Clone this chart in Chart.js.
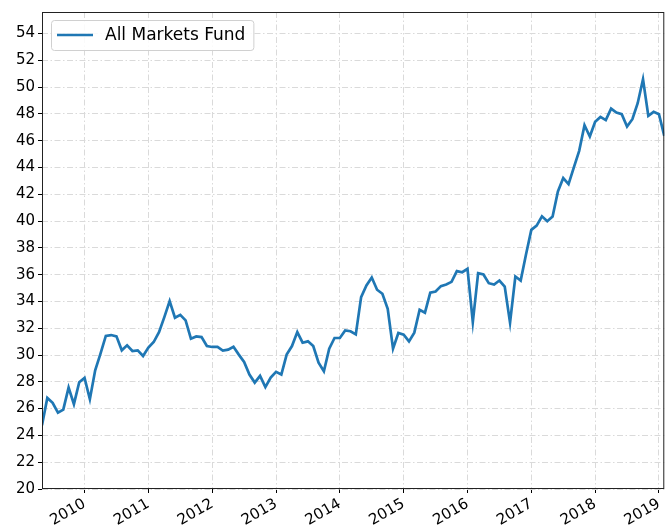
<!DOCTYPE html>
<html>
<head>
<meta charset="utf-8">
<script src="https://cdn.jsdelivr.net/npm/chart.js@4.4.1/dist/chart.umd.min.js"></script>
<style>
  body { margin: 0; background: #fff; }
</style>
</head>
<body>
<canvas id="fundChart" width="670" height="525"></canvas>
<script>
const seriesName = "All Markets Fund";
const startYear = 2009;
const startMonth = 5; // first monthly value is May 2009

const fundValues = [
  24.76, 26.8, 26.43, 25.7, 25.93, 27.57, 26.33, 27.97,
  28.29, 26.7, 28.86, 30.1, 31.42, 31.49, 31.39, 30.35, 30.72, 30.3, 30.35, 29.93,
  30.55, 30.97, 31.71, 32.83, 34.02, 32.78, 33.0, 32.58, 31.22, 31.39, 31.34, 30.67,
  30.6, 30.6, 30.33, 30.4, 30.62, 30.03, 29.48, 28.54, 27.94, 28.44, 27.6, 28.31,
  28.74, 28.54, 30.03, 30.67, 31.71, 30.92, 31.02, 30.67, 29.43, 28.79, 30.47, 31.27,
  31.27, 31.84, 31.77, 31.54, 34.32, 35.19, 35.78, 34.87, 34.57, 33.45, 30.47, 31.64,
  31.52, 31.02, 31.67, 33.38, 33.16, 34.65, 34.74, 35.14, 35.26, 35.46, 36.26, 36.18,
  36.43, 32.46, 36.11, 36.01, 35.36, 35.26, 35.56, 35.11, 32.41, 35.86, 35.56, 37.5,
  39.34, 39.66, 40.35, 39.98, 40.33, 42.21, 43.21, 42.76, 44.0, 45.24, 47.15, 46.31,
  47.4, 47.77, 47.53, 48.39, 48.09, 47.97, 47.05, 47.6, 48.79, 50.58, 47.85, 48.15,
  47.97, 46.36
];

const yearTicks = [2010, 2011, 2012, 2013, 2014, 2015, 2016, 2017, 2018, 2019];
const valueTicks = [20, 22, 24, 26, 28, 30, 32, 34, 36, 38, 40, 42, 44, 46, 48, 50, 52, 54];
const yMin = 20;
const yMax = 55.6;

// month index -> fractional year on a linear axis
const points = fundValues.map((v, i) => ({ x: startYear + (startMonth - 1 + i) / 12, y: v }));

Chart.defaults.font.family = "'DejaVu Sans', sans-serif";
Chart.defaults.font.size = 15;
Chart.defaults.color = "#000";

const gridStyle = {
  color: "#dadada",
  lineWidth: 1,
  tickColor: "#000",
  tickLength: 4,
  tickWidth: 1
};

// box round the plot area, like the matplotlib frame
const frame = {
  id: "frame",
  afterDatasetsDraw(chart) {
    const { ctx, chartArea: a } = chart;
    ctx.save();
    ctx.strokeStyle = "#222";
    ctx.lineWidth = 1;
    ctx.strokeRect(a.left + 0.5, a.top + 0.5, a.right - a.left - 1, a.bottom - a.top - 1);
    ctx.restore();
  }
};

// legend drawn inside the upper left corner of the plot
const insideLegend = {
  id: "insideLegend",
  afterDatasetsDraw(chart) {
    const { ctx, chartArea: a } = chart;
    const ds = chart.data.datasets[0];
    ctx.save();
    ctx.font = "17px 'DejaVu Sans', sans-serif";
    const tw = ctx.measureText(ds.label).width;
    const x = a.left + 9, y = a.top + 8;
    const w = 54 + tw + 8, h = 30;
    ctx.beginPath();
    ctx.roundRect(x + 0.5, y + 0.5, w, h, 3);
    ctx.fillStyle = "rgba(255,255,255,0.85)";
    ctx.fill();
    ctx.strokeStyle = "#d0d0d0";
    ctx.lineWidth = 1;
    ctx.stroke();
    ctx.beginPath();
    ctx.moveTo(x + 6, y + 15);
    ctx.lineTo(x + 42, y + 15);
    ctx.strokeStyle = ds.borderColor;
    ctx.lineWidth = ds.borderWidth;
    ctx.stroke();
    ctx.fillStyle = "#000";
    ctx.textBaseline = "middle";
    ctx.fillText(ds.label, x + 54, y + 16);
    ctx.restore();
  }
};

new Chart(document.getElementById("fundChart"), {
  type: "line",
  data: {
    datasets: [{
      label: seriesName,
      data: points,
      borderColor: "#1f77b4",
      backgroundColor: "#1f77b4",
      borderWidth: 2.7,
      pointRadius: 0,
      tension: 0,
      fill: false
    }]
  },
  options: {
    responsive: false,
    animation: false,
    layout: { padding: { top: 11, right: 4, left: 0, bottom: 0 } },
    plugins: {
      legend: { display: false },
      tooltip: { enabled: false }
    },
    scales: {
      x: {
        type: "linear",
        min: points[0].x,
        max: points[points.length - 1].x,
        afterBuildTicks: axis => { axis.ticks = yearTicks.map(v => ({ value: v })); },
        afterFit: axis => { axis.height = 36; },
        ticks: {
          autoSkip: false,
          minRotation: 30,
          maxRotation: 30,
          padding: 2,
          callback: v => String(v)
        },
        grid: gridStyle,
        border: { display: false, dash: [6, 2.5, 1.5, 2.5] }
      },
      y: {
        min: yMin,
        max: yMax,
        afterBuildTicks: axis => { axis.ticks = valueTicks.map(v => ({ value: v })); },
        afterFit: axis => { axis.width = 42; },
        ticks: { padding: 3, callback: v => String(v) },
        grid: gridStyle,
        border: { display: false, dash: [6, 2.5, 1.5, 2.5] }
      }
    }
  },
  plugins: [frame, insideLegend]
});
</script>
</body>
</html>
